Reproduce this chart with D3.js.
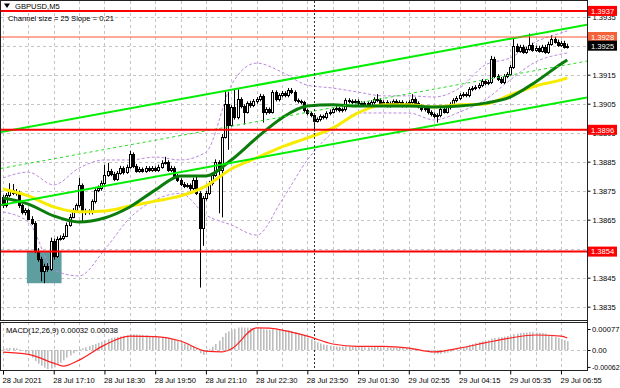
<!DOCTYPE html>
<html><head><meta charset="utf-8">
<script src="https://cdn.jsdelivr.net/npm/d3@7"></script>
<style>body{margin:0;background:#fff} text{font-family:"Liberation Sans",Arial,sans-serif}</style>
</head><body><svg id="c" width="620" height="388"></svg>
<script>
// ---------------- data ----------------
const open=[1.38727,1.38699,1.38734,1.38752,1.38741,1.38745,1.38699,1.38675,1.38682,1.38654,
1.38640,1.38543,1.38515,1.38473,1.38490,1.38480,1.38578,1.38525,1.38585,1.38588,
1.38595,1.38633,1.38661,1.38682,1.38699,1.38769,1.38675,1.38679,1.38675,1.38713,
1.38752,1.38759,1.38776,1.38804,1.38818,1.38808,1.38790,1.38811,1.38828,1.38814,
1.38832,1.38877,1.38835,1.38818,1.38825,1.38818,1.38828,1.38821,1.38828,1.38821,
1.38832,1.38846,1.38849,1.38821,1.38828,1.38801,1.38787,1.38773,1.38766,1.38769,
1.38759,1.38787,1.38741,1.38623,1.38724,1.38741,1.38776,1.38804,1.38849,1.38821,
1.38936,1.39048,1.38978,1.39037,1.39003,1.39065,1.39041,1.39023,1.39051,1.39044,
1.39058,1.39065,1.39076,1.39020,1.39030,1.39023,1.39090,1.39065,1.39079,1.39086,
1.39079,1.39097,1.39090,1.39062,1.39058,1.39055,1.39027,1.39017,1.39010,1.38992,
1.38996,1.39006,1.39003,1.39017,1.39023,1.39030,1.39034,1.39027,1.39030,1.39062,
1.39058,1.39055,1.39058,1.39051,1.39048,1.39051,1.39044,1.39055,1.39065,1.39062,
1.39051,1.39055,1.39044,1.39051,1.39058,1.39048,1.39055,1.39044,1.39051,1.39055,
1.39065,1.39051,1.39041,1.39030,1.39034,1.39020,1.39013,1.39006,1.39010,1.39030,
1.39023,1.39037,1.39048,1.39062,1.39069,1.39079,1.39083,1.39079,1.39100,1.39104,
1.39107,1.39114,1.39128,1.39121,1.39125,1.39205,1.39145,1.39135,1.39125,1.39145,
1.39152,1.39177,1.39250,1.39233,1.39246,1.39229,1.39240,1.39253,1.39236,1.39243,
1.39233,1.39246,1.39229,1.39257,1.39274,1.39264,1.39253,1.39260,1.39246];
const high=[1.38735,1.38742,1.38776,1.38773,1.38756,1.38750,1.38705,1.38690,1.38688,1.38662,
1.38645,1.38552,1.38522,1.38498,1.38500,1.38588,1.38585,1.38592,1.38596,1.38603,
1.38640,1.38670,1.38690,1.38706,1.38794,1.38775,1.38688,1.38686,1.38720,1.38760,
1.38768,1.38785,1.38839,1.38846,1.38825,1.38815,1.38818,1.38836,1.38834,1.38840,
1.38888,1.38882,1.38842,1.38832,1.38830,1.38835,1.38834,1.38835,1.38834,1.38840,
1.38855,1.38867,1.38855,1.38836,1.38834,1.38808,1.38793,1.38780,1.38776,1.38775,
1.38795,1.38801,1.38748,1.38732,1.38750,1.38784,1.38812,1.38858,1.38855,1.38945,
1.39093,1.39090,1.39045,1.39100,1.39100,1.39072,1.39048,1.39058,1.39060,1.39066,
1.39073,1.39084,1.39082,1.39038,1.39037,1.39097,1.39096,1.39086,1.39094,1.39093,
1.39104,1.39104,1.39096,1.39068,1.39064,1.39060,1.39033,1.39023,1.39016,1.39003,
1.39013,1.39012,1.39024,1.39030,1.39037,1.39041,1.39040,1.39037,1.39069,1.39069,
1.39065,1.39065,1.39065,1.39058,1.39058,1.39058,1.39062,1.39072,1.39083,1.39069,
1.39062,1.39062,1.39058,1.39065,1.39065,1.39062,1.39062,1.39058,1.39062,1.39083,
1.39072,1.39058,1.39048,1.39041,1.39041,1.39027,1.39020,1.39017,1.39037,1.39037,
1.39044,1.39055,1.39069,1.39076,1.39086,1.39090,1.39090,1.39107,1.39111,1.39114,
1.39121,1.39135,1.39135,1.39132,1.39215,1.39212,1.39152,1.39142,1.39152,1.39159,
1.39184,1.39278,1.39257,1.39253,1.39253,1.39247,1.39292,1.39260,1.39250,1.39250,
1.39253,1.39253,1.39264,1.39285,1.39281,1.39271,1.39267,1.39267,1.39257];
const low=[1.38690,1.38692,1.38728,1.38735,1.38733,1.38690,1.38668,1.38665,1.38648,1.38632,
1.38535,1.38505,1.38438,1.38431,1.38470,1.38474,1.38512,1.38518,1.38578,1.38580,
1.38590,1.38626,1.38655,1.38676,1.38692,1.38640,1.38666,1.38668,1.38668,1.38706,
1.38745,1.38750,1.38770,1.38798,1.38800,1.38783,1.38784,1.38805,1.38806,1.38808,
1.38826,1.38828,1.38812,1.38812,1.38812,1.38812,1.38815,1.38815,1.38815,1.38815,
1.38826,1.38840,1.38815,1.38814,1.38795,1.38780,1.38766,1.38759,1.38760,1.38750,
1.38752,1.38735,1.38416,1.38560,1.38716,1.38735,1.38768,1.38798,1.38672,1.38658,
1.38930,1.38891,1.38970,1.38995,1.38996,1.39034,1.38978,1.39016,1.39036,1.39038,
1.39050,1.39058,1.38985,1.39012,1.39015,1.39016,1.39058,1.39058,1.39072,1.39072,
1.39072,1.39083,1.39055,1.39051,1.39048,1.39020,1.39010,1.39003,1.38954,1.38985,
1.38989,1.38996,1.38996,1.39010,1.39016,1.39023,1.39020,1.39020,1.39023,1.39051,
1.39048,1.39048,1.39044,1.39041,1.39041,1.39037,1.39037,1.39048,1.39055,1.39044,
1.39044,1.39037,1.39037,1.39044,1.39041,1.39041,1.39037,1.39037,1.39044,1.39048,
1.39044,1.39034,1.39023,1.39023,1.39013,1.39006,1.38999,1.38985,1.39003,1.39016,
1.39016,1.39030,1.39041,1.39055,1.39062,1.39072,1.39072,1.39072,1.39093,1.39097,
1.39100,1.39107,1.39114,1.39114,1.39118,1.39138,1.39128,1.39118,1.39118,1.39138,
1.39145,1.39170,1.39226,1.39226,1.39222,1.39222,1.39233,1.39229,1.39229,1.39226,
1.39226,1.39222,1.39222,1.39250,1.39257,1.39246,1.39246,1.39240,1.39240];
const close=[1.38699,1.38734,1.38752,1.38741,1.38745,1.38699,1.38675,1.38682,1.38654,1.38640,
1.38543,1.38515,1.38473,1.38490,1.38480,1.38578,1.38525,1.38585,1.38588,1.38595,
1.38633,1.38661,1.38682,1.38699,1.38769,1.38675,1.38679,1.38675,1.38713,1.38752,
1.38759,1.38776,1.38804,1.38818,1.38808,1.38790,1.38811,1.38828,1.38814,1.38832,
1.38877,1.38835,1.38818,1.38825,1.38818,1.38828,1.38821,1.38828,1.38821,1.38832,
1.38846,1.38849,1.38821,1.38828,1.38801,1.38787,1.38773,1.38766,1.38769,1.38759,
1.38787,1.38741,1.38623,1.38724,1.38741,1.38776,1.38804,1.38849,1.38821,1.38936,
1.39048,1.38978,1.39037,1.39003,1.39065,1.39041,1.39023,1.39051,1.39044,1.39058,
1.39065,1.39076,1.39020,1.39030,1.39023,1.39090,1.39065,1.39079,1.39086,1.39079,
1.39097,1.39090,1.39062,1.39058,1.39055,1.39027,1.39017,1.39010,1.38992,1.38996,
1.39006,1.39003,1.39017,1.39023,1.39030,1.39034,1.39027,1.39030,1.39062,1.39058,
1.39055,1.39058,1.39051,1.39048,1.39051,1.39044,1.39055,1.39065,1.39062,1.39051,
1.39055,1.39044,1.39051,1.39058,1.39048,1.39055,1.39044,1.39051,1.39055,1.39065,
1.39051,1.39041,1.39030,1.39034,1.39020,1.39013,1.39006,1.39010,1.39030,1.39023,
1.39037,1.39048,1.39062,1.39069,1.39079,1.39083,1.39079,1.39100,1.39104,1.39107,
1.39114,1.39128,1.39121,1.39125,1.39205,1.39145,1.39135,1.39125,1.39145,1.39152,
1.39177,1.39250,1.39233,1.39246,1.39229,1.39240,1.39253,1.39236,1.39243,1.39233,
1.39246,1.39229,1.39257,1.39274,1.39264,1.39253,1.39260,1.39246,1.39250];

// indicator lines read at every 8th bar
const maIdx=[0,8,16,24,32,40,48,56,64,72,80,88,96,104,112,120,128,136,144,152,160,168,176,178];
const maFast=[1.38725,1.38704,1.38663,1.38642,1.38656,1.38694,1.38752,1.38801,1.38801,1.38856,1.38932,1.39001,1.39042,1.39046,1.39042,1.39042,1.39042,1.39039,1.39042,1.39052,1.39073,1.39125,1.39187,1.39201];
const maSlow=[1.38756,1.38732,1.38694,1.38677,1.38680,1.38697,1.38714,1.38732,1.38766,1.38825,1.38863,1.38901,1.38932,1.38966,1.39018,1.39046,1.39046,1.39039,1.39046,1.39049,1.39080,1.39111,1.39132,1.39139];
const bbUpper=[1.38794,1.38814,1.38770,1.38828,1.38856,1.38856,1.38866,1.38856,1.38883,1.39114,1.39190,1.39159,1.39114,1.39104,1.39090,1.39077,1.39077,1.39073,1.39104,1.39183,1.39208,1.39263,1.39294,1.39301];
const bbLower=[1.38677,1.38642,1.38477,1.38456,1.38546,1.38656,1.38718,1.38741,1.38666,1.38632,1.38597,1.38718,1.38856,1.38952,1.39018,1.39018,1.39018,1.38994,1.39021,1.39063,1.39132,1.39194,1.39221,1.39225];

// MACD (values in 0.00001)
const macdHist=[5,6,8,8,6,2,-3,-10,-18,-28,
-40,-50,-58,-65,-70,-68,-64,-55,-47,-38,
-28,-20,-12,-5,3,6,10,14,18,22,
26,30,36,40,44,46,48,50,52,54,
58,58,57,56,55,54,52,50,49,47,
46,45,42,40,36,32,28,24,20,16,
12,4,-12,-18,-8,4,12,22,34,48,
62,68,74,78,82,83,82,82,81,81,
80,80,76,75,74,76,75,74,74,73,
72,70,66,62,58,52,46,40,34,28,
24,20,18,16,14,13,12,12,13,13,
12,12,11,11,10,10,10,11,11,10,
10,9,9,9,8,8,8,8,8,8,
6,4,0,-3,-6,-9,-12,-14,-14,-12,
-10,-6,-2,3,8,12,15,19,22,26,
29,32,34,36,42,44,46,47,49,51,
52,58,60,62,63,64,65,65,64,63,
62,60,55,52,48,44,40,36,32];
const sigIdx=[0,8,16,19,24,32,40,48,56,64,69,72,80,84,88,96,104,112,120,128,136,144,152,160,168,176,178];
const sigVal=[-8,-16,-48,-59,-37,18,51,49,33,-4,-7,4,81,80,73,51,22,13,13,7,-7,7,26,44,55,51,44];

const timeTickIdx=[0,16,32,48,64,80,96,112,128,144,160,176];
const timeLabels=["28 Jul 2021","28 Jul 17:10","28 Jul 18:30","28 Jul 19:50","28 Jul 21:10","28 Jul 22:30","28 Jul 23:50","29 Jul 01:30","29 Jul 02:55","29 Jul 04:15","29 Jul 05:35","29 Jul 06:55"];
const priceTicks=[1.3935,1.3925,1.3915,1.3905,1.3895,1.3885,1.3875,1.3865,1.3855,1.3845,1.3835];
const macdTicks=[0.00077,0,-0.00062];
const macdTickLabels=["0.00077","0.00","-0.00062"];
const levels=[1.3937,1.3928,1.3896,1.3854];
const levelLabels=["1.3937","1.3928","1.3896","1.3854"];
const lastPrice=1.3925, lastLabel="1.3925";
const channelIdx=[0,178];
const channelUpper=[1.38954,1.39310];
const channelLower=[1.38702,1.39059];
const zoneIdx=[8,18];
const zonePrice=[1.38539,1.38431];
const daySepIdx=98;
const symbolTitle="GBPUSD,M5";
const channelText="Channel size = 25 Slope = 0.21";
const macdText="MACD(12,26,9) 0.00032 0.00038";

// ---------------- layout ----------------
const svg=d3.select("#c");
const W=620,H=388, R=587, mainTop=1, mainBot=320, mTop=322, mBot=370;
svg.append("rect").attr("width",W).attr("height",H).attr("fill","#fff");

const xS=d3.scaleLinear().domain([0,178]).range([3,567.3]);
const yBase=d3.scaleLinear().domain([1.3875,1.3935]).range([190.7,16.7]);
const yP=d3.scaleLinear().domain([yBase.invert(mainBot),yBase.invert(mainTop)]).range([mainBot,mainTop]);
const yM=d3.scaleLinear().domain([0,0.00077]).range([350,329]);
const yMf=d3.scaleLinear().domain([yM.invert(mBot),yM.invert(mTop)]).range([mBot,mTop]);

const defs=svg.append("defs");
defs.append("clipPath").attr("id","cm").append("rect").attr("x",1).attr("y",mainTop).attr("width",R-1).attr("height",mainBot-mainTop);
defs.append("clipPath").attr("id","cd").append("rect").attr("x",1).attr("y",mTop).attr("width",R-1).attr("height",mBot-mTop);

const gridC="#c4c4c4";
// grids
const gGrid=svg.append("g");
const vIdx=d3.range(0,179,8);
vIdx.forEach(i=>{
  const x=Math.round(xS(i))+0.5;
  gGrid.append("line").attr("x1",x).attr("x2",x).attr("y1",mainTop).attr("y2",mainBot).attr("stroke",gridC).attr("stroke-dasharray","3,3");
  gGrid.append("line").attr("x1",x).attr("x2",x).attr("y1",mTop).attr("y2",mBot).attr("stroke",gridC).attr("stroke-dasharray","3,3");
});
priceTicks.forEach(p=>{
  const y=Math.round(yP(p))+0.5;
  gGrid.append("line").attr("x1",1).attr("x2",R).attr("y1",y).attr("y2",y).attr("stroke",gridC).attr("stroke-dasharray","3,3");
});
gGrid.append("line").attr("x1",1).attr("x2",R).attr("y1",Math.round(yM(0))+0.5).attr("y2",Math.round(yM(0))+0.5).attr("stroke",gridC).attr("stroke-dasharray","3,3");

// main panel
const gm=svg.append("g").attr("clip-path","url(#cm)");
// zone rectangle
gm.append("rect").attr("x",xS(zoneIdx[0])-1.5).attr("width",xS(zoneIdx[1])-xS(zoneIdx[0])+3)
  .attr("y",yP(zonePrice[0])).attr("height",yP(zonePrice[1])-yP(zonePrice[0])).attr("fill","#5f9ea0");

// day separator
const dsx=Math.round(xS(daySepIdx))+0.5;
svg.append("line").attr("x1",dsx).attr("x2",dsx).attr("y1",mainTop).attr("y2",mainBot).attr("stroke","#333").attr("stroke-dasharray","2,2");
svg.append("line").attr("x1",dsx).attr("x2",dsx).attr("y1",mTop).attr("y2",mBot).attr("stroke","#333").attr("stroke-dasharray","2,2");

const line=(vals,idx)=>d3.line().x((d,k)=>xS(idx[k])).y(d=>yP(d)).curve(d3.curveMonotoneX)(vals);
// bollinger bands
[bbUpper,bbLower].forEach(a=>gm.append("path").attr("d",line(a,maIdx)).attr("fill","none").attr("stroke","#bb88e0").attr("stroke-width",1).attr("stroke-dasharray","3,2"));

// candles
const gc=gm.append("g");
close.forEach((c,i)=>{
  const cx=Math.round(xS(i));
  const o=open[i];
  gc.append("line").attr("x1",cx+0.5).attr("x2",cx+0.5).attr("y1",yP(high[i])).attr("y2",yP(low[i])).attr("stroke","#000").attr("stroke-width",1);
  const yt=Math.round(yP(Math.max(o,c)))+0.5, yb=Math.round(yP(Math.min(o,c)))+0.5;
  gc.append("rect").attr("x",cx-0.5).attr("width",2).attr("y",yt).attr("height",Math.max(0,yb-yt))
    .attr("fill",c>=o?"#fff":"#000").attr("stroke","#000").attr("stroke-width",1);
});

// moving averages
gm.append("path").attr("d",line(maSlow,maIdx)).attr("fill","none").attr("stroke","#f7ec00").attr("stroke-width",3);
gm.append("path").attr("d",line(maFast,maIdx)).attr("fill","none").attr("stroke","#0b7d0b").attr("stroke-width",3);

// regression channel (extended across the panel)
const i0=xS.invert(1), i1=xS.invert(R);
const ext=(a)=>{const s=d3.scaleLinear().domain(channelIdx).range(a);return [[1,yP(s(i0))],[R,yP(s(i1))]];};
const midArr=[(channelUpper[0]+channelLower[0])/2,(channelUpper[1]+channelLower[1])/2];
gm.append("path").attr("d",d3.line()(ext(midArr))).attr("stroke","#22dd22").attr("stroke-width",1).attr("stroke-dasharray","3,3").attr("fill","none");
[channelUpper,channelLower].forEach(a=>gm.append("path").attr("d",d3.line()(ext(a))).attr("stroke","#00ee00").attr("stroke-width",2).attr("fill","none"));

// horizontal levels
const lvlColor=["#ff0000","#ff5533","#ff0000","#ff0000"], lvlW=[2,1,2,2];
levels.forEach((p,k)=>{
  const y=yP(p);
  gm.append("line").attr("x1",1).attr("x2",R).attr("y1",y).attr("y2",y).attr("stroke",lvlColor[k]).attr("stroke-width",lvlW[k]);
});

// MACD panel
const gd=svg.append("g").attr("clip-path","url(#cd)");
macdHist.forEach((v,i)=>{
  const cx=Math.round(xS(i));
  const y0=yM(0), y1=yM(v/1e5);
  gd.append("rect").attr("x",cx).attr("width",1.6).attr("y",Math.min(y0,y1)).attr("height",Math.abs(y1-y0)).attr("fill","#bdbdbd");
});
gd.append("path").attr("d",d3.line().x((d,k)=>xS(sigIdx[k])).y(d=>yM(d/1e5)).curve(d3.curveMonotoneX)(sigVal))
  .attr("fill","none").attr("stroke","#ff2020").attr("stroke-width",1.2);

// frames
svg.append("rect").attr("x",0.5).attr("y",0.5).attr("width",R).attr("height",mainBot).attr("fill","none").attr("stroke","#222");
svg.append("rect").attr("x",0.5).attr("y",mTop+0.5).attr("width",R).attr("height",mBot-mTop).attr("fill","none").attr("stroke","#222");

// axes
const fs="7.6px";
const ax=svg.append("g").attr("transform",`translate(${R+0.5},0)`).call(d3.axisRight(yP).tickValues(priceTicks).tickFormat(d3.format(".4f")).tickSize(3).tickPadding(2));
ax.select(".domain").remove();
ax.selectAll("text").attr("font-size",fs).attr("fill","#000").attr("font-family","Liberation Sans, Arial");
ax.selectAll("line").attr("stroke","#000");
const axm=svg.append("g").attr("transform",`translate(${R+0.5},0)`).call(d3.axisRight(yMf).tickValues(macdTicks).tickFormat((d,k)=>macdTickLabels[k]).tickSize(3).tickPadding(1.5));
axm.select(".domain").remove();
axm.selectAll("text").attr("font-size",d=>d<0?"7px":fs).attr("fill","#000").attr("font-family","Liberation Sans, Arial");
axm.selectAll("line").attr("stroke","#000");
svg.append("line").attr("x1",R+0.5).attr("x2",R+0.5).attr("y1",0).attr("y2",mBot+1).attr("stroke","#222");

const axt=svg.append("g").attr("transform",`translate(0,${mBot+0.5})`).call(d3.axisBottom(xS).tickValues(timeTickIdx).tickFormat((d,k)=>timeLabels[k]).tickSize(4).tickPadding(3));
axt.select(".domain").remove();
axt.selectAll("text").attr("font-size",fs).attr("fill","#000").attr("text-anchor","start").attr("dx",-1).attr("font-family","Liberation Sans, Arial");
axt.selectAll("line").attr("stroke","#000");

// level labels
const boxColor=["#ff0000","#f4623a","#ff0000","#ff0000"];
levels.forEach((p,k)=>{
  const y=yP(p);
  svg.append("rect").attr("x",R+1).attr("y",y-5).attr("width",29).attr("height",10).attr("fill",boxColor[k]);
  svg.append("text").attr("x",R+4).attr("y",y+2.8).attr("font-size",fs).attr("fill","#fff").text(levelLabels[k]);
});
{
  const y=yP(lastPrice);
  svg.append("rect").attr("x",R+1).attr("y",y-5).attr("width",29).attr("height",10).attr("fill","#000");
  svg.append("text").attr("x",R+4).attr("y",y+2.8).attr("font-size",fs).attr("fill","#fff").text(lastLabel);
}

// texts
svg.append("rect").attr("x",1).attr("y",1).attr("width",60).attr("height",9).attr("fill","#fff");
svg.append("path").attr("d","M4,3.5 L10,3.5 L7,8 Z").attr("fill","#000");
svg.append("text").attr("x",15).attr("y",9).attr("font-size",fs).attr("fill","#000").text(symbolTitle);
svg.append("text").attr("x",8).attr("y",21).attr("font-size",fs).attr("fill","#000").text(channelText);
svg.append("text").attr("x",6).attr("y",333).attr("font-size",fs).attr("fill","#000").text(macdText);
</script></body></html>
